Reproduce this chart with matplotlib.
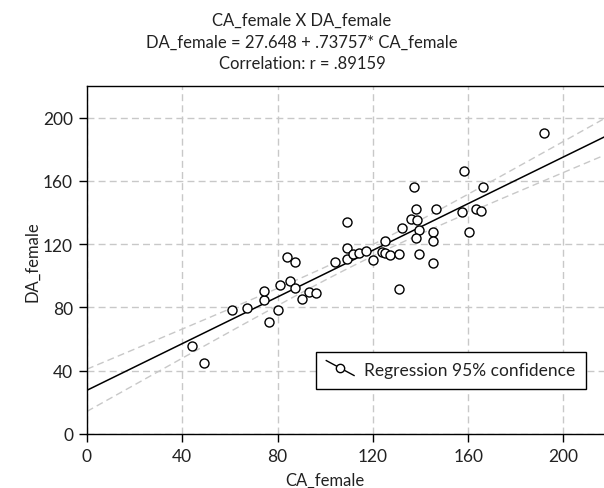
import numpy as np
import matplotlib
matplotlib.use("Agg")
import matplotlib.pyplot as plt
from matplotlib.lines import Line2D
from matplotlib.legend_handler import HandlerBase

# values
ca_female = [44.1, 49.0, 60.9, 67.2, 74.1, 74.1, 76.2, 80.3, 81.1, 84.0,
             87.3, 85.0, 87.1, 90.2, 93.2, 96.2, 104.2, 109.1, 109.1, 109.1,
             111.8, 114.2, 117.1, 120.2, 123.9, 125.2, 125.1, 127.2, 131.1, 131.0,
             132.1, 136.1, 137.3, 138.2, 138.4, 139.2, 138.2, 139.2, 145.3, 145.3,
             145.3, 146.4, 157.3, 158.3, 160.4, 163.2, 165.4, 166.1, 192.0]
da_female = [55.9, 44.9, 78.7, 79.4, 84.8, 90.3, 70.9, 78.7, 93.9, 112.2,
             108.7, 96.6, 92.0, 85.3, 89.9, 89.2, 108.7, 134.0, 117.9, 110.9,
             113.5, 114.4, 115.8, 109.9, 115.0, 114.4, 121.7, 113.3, 113.5, 91.6,
             130.2, 136.1, 155.9, 142.0, 135.0, 129.1, 124.1, 113.9, 128.0, 122.2,
             108.0, 142.4, 140.1, 166.5, 128.0, 142.2, 140.7, 155.9, 190.1]

intercept = 27.648
slope = 0.73757
x_ticks = [0, 40, 80, 120, 160, 200]
y_ticks = [0, 40, 80, 120, 160, 200]

txt = '#222222'
plt.rcParams['font.family'] = ['Lato', 'DejaVu Sans']
plt.rcParams['font.size'] = 12
plt.rcParams['text.color'] = txt
plt.rcParams['xtick.labelcolor'] = txt
plt.rcParams['ytick.labelcolor'] = txt


class SlopedLineHandler(HandlerBase):
    # legend key: short falling line with an open circle in the middle
    def create_artists(self, legend, orig_handle, xdescent, ydescent,
                       width, height, fontsize, trans):
        x0, x1 = -xdescent, width - xdescent
        y0, y1 = height - ydescent + 2, -ydescent
        line = Line2D([x0, x1], [y0, y1], color='black', lw=1, transform=trans)
        dot = Line2D([(x0 + x1) / 2], [(y0 + y1) / 2], marker='o', ms=6,
                     mfc='white', mec='black', mew=1, transform=trans)
        return [line, dot]


x = np.array(ca_female)
y = np.array(da_female)
n = len(x)

fig = plt.figure(figsize=(6.04, 4.89), dpi=100)
ax = fig.add_axes([87 / 604, 1 - 435 / 489, 1 - 87 / 604, (435 - 87) / 489])

# regression line and 95% confidence band for the mean
xs = np.linspace(0, 217, 200)
fit = intercept + slope * xs
resid = y - (intercept + slope * x)
s = np.sqrt(np.sum(resid ** 2) / (n - 2))
sxx = np.sum((x - x.mean()) ** 2)
half = 2.0106 * s * np.sqrt(1 / n + (xs - x.mean()) ** 2 / sxx)

ax.plot(xs, fit + half, color='#c8c8c8', lw=1, ls=(0, (5, 3)), zorder=2)
ax.plot(xs, fit - half, color='#c8c8c8', lw=1, ls=(0, (5, 3)), zorder=2)
ax.plot(xs, fit, color='black', lw=1.1, zorder=3)
ax.plot(x, y, ls='none', marker='o', ms=6.5, mfc='white', mec='black',
        mew=1, zorder=4)

ax.set_xlim(0, 217)
ax.set_ylim(0, 220)
ax.set_xticks(x_ticks)
ax.set_yticks(y_ticks)
ax.grid(True, color='#c8c8c8', ls=(0, (5, 3)), lw=1)
ax.set_axisbelow(True)
ax.tick_params(direction='out', length=6, width=1, color='black', labelsize=12.5, pad=4)
ax.spines['right'].set_visible(False)
for side in ['left', 'bottom', 'top']:
    ax.spines[side].set_linewidth(1)

fig.text(325 / 604, 1 - 481 / 489, 'CA_female', ha='center', va='center', fontsize=12)
fig.text(32 / 604, 1 - 262 / 489, 'DA_female', ha='center', va='center',
         rotation=90, fontsize=12)

fig.text(302 / 604, 1 - 21 / 489, 'CA_female X DA_female', ha='center', va='center', fontsize=12)
fig.text(302 / 604, 1 - 43 / 489, 'DA_female = 27.648 + .73757* CA_female',
         ha='center', va='center', fontsize=12)
fig.text(302 / 604, 1 - 64 / 489, 'Correlation: r = .89159', ha='center', va='center', fontsize=12)

key = Line2D([], [], color='black')
leg = ax.legend([key], ['Regression 95% confidence'],
                handler_map={Line2D: SlopedLineHandler()},
                loc='center', bbox_to_anchor=((451 - 87) / 517, (435 - 371.5) / 348),
                frameon=True, fancybox=False, framealpha=1, edgecolor='black',
                handlelength=1.6, handletextpad=0.6, borderpad=0.6, fontsize=12.5)
leg.get_frame().set_linewidth(1)

plt.savefig('out.png', dpi=100)
